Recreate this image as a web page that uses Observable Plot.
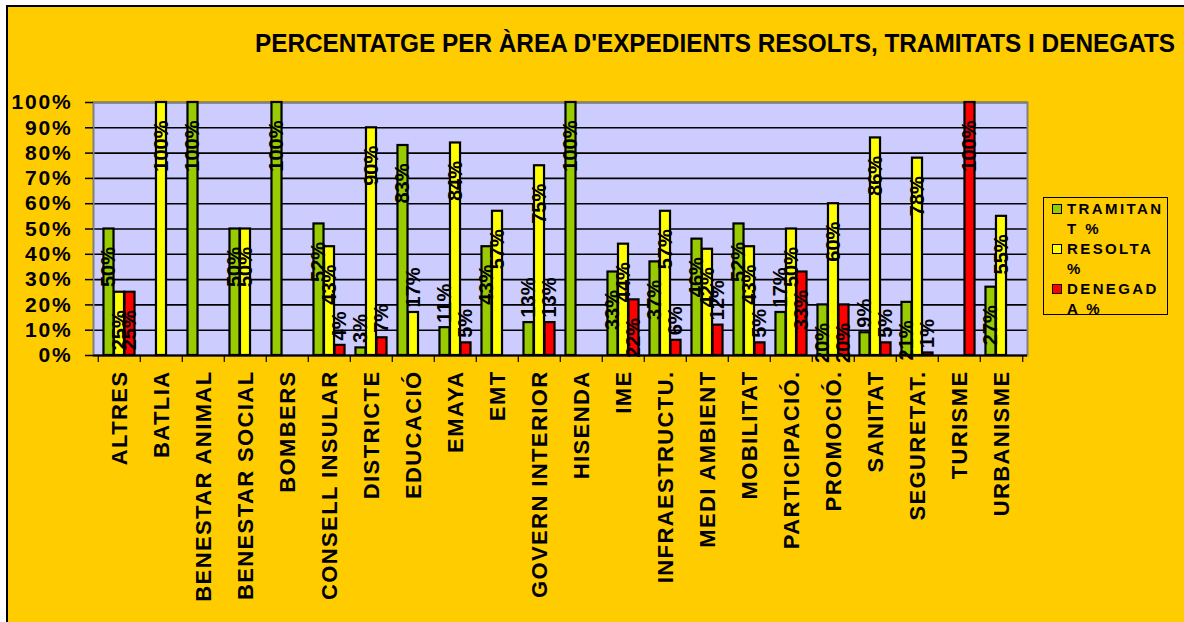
<!DOCTYPE html>
<html>
<head>
<meta charset="utf-8">
<script src="https://cdn.jsdelivr.net/npm/d3@7"></script>
<script src="https://cdn.jsdelivr.net/npm/@observablehq/plot@0.6"></script>
<style>
  html, body { margin: 0; padding: 0; background: #fff; }
  body { width: 1184px; height: 622px; position: relative; overflow: hidden; font-family: "Liberation Sans", Arial, sans-serif; }
  #bg { position: absolute; left: 6px; top: 5px; right: 0; bottom: 0; background: #FFCC00; border-left: 2px solid #000; border-top: 2px solid #000; }
  #title { position: absolute; left: 255px; top: 29px; font-weight: bold; font-size: 25px; white-space: nowrap; transform-origin: 0 0; color: #000; }
  #chart { position: absolute; left: 0; top: 70px; }
  #chart svg { overflow: visible; }
  #legend { position: absolute; left: 1043px; top: 197px; width: 125px; height: 118px; border: 1.5px solid #000; box-sizing: border-box; padding: 1px 0 0 8px; }
  .item { position: relative; padding-left: 15px; width: 102px; font-weight: bold; font-size: 15px; letter-spacing: 2.4px; line-height: 20px; word-break: break-all; color: #000; }
  .item .sw { position: absolute; left: 0; top: 5px; width: 8px; height: 8px; border: 1.5px solid #000; }
  g[aria-label="y-axis tick label"] text { letter-spacing: 1.8px; }
  g[aria-label="x-axis tick label"] text { letter-spacing: 1.4px; }
</style>
</head>
<body>
<div id="bg"></div>
<div id="title"></div>
<div id="chart"></div>
<div id="legend"></div>
<script>
const titleText = "PERCENTATGE PER ÀREA D'EXPEDIENTS RESOLTS, TRAMITATS I DENEGATS";
const categories = ["ALTRES","BATLIA","BENESTAR ANIMAL","BENESTAR SOCIAL","BOMBERS","CONSELL INSULAR","DISTRICTE","EDUCACIÓ","EMAYA","EMT","GOVERN INTERIOR","HISENDA","IME","INFRAESTRUCTU.","MEDI AMBIENT","MOBILITAT","PARTICIPACIÓ.","PROMOCIÓ.","SANITAT","SEGURETAT.","TURISME","URBANISME"];
const seriesNames = ["TRAMITANT %","RESOLTA %","DENEGADA %"];
const tramitant = [50,0,100,50,100,52,3,83,11,43,13,100,33,37,46,52,17,20,9,21,0,27];
const resolta   = [25,100,0,50,0,43,90,17,84,57,75,0,44,57,42,43,50,60,86,78,0,55];
const denegada  = [25,0,0,0,0,4,7,0,5,0,13,0,22,6,12,5,33,20,5,1,100,0];
const yTicks = [0,10,20,30,40,50,60,70,80,90,100];

const colors = ["#99CC00","#FFFF00","#FF0000"];
const seriesValues = [tramitant, resolta, denegada];

// Title, fitted to the reference width
const t = document.getElementById("title");
t.textContent = titleText;
const tw = t.getBoundingClientRect().width;
t.style.transform = `scale(${920 / tw}, 1)`;

// Legend
const lg = document.getElementById("legend");
seriesNames.forEach((name, i) => {
  const it = document.createElement("div");
  it.className = "item";
  const sw = document.createElement("span");
  sw.className = "sw";
  sw.style.background = colors[i];
  it.appendChild(sw);
  it.appendChild(document.createTextNode(name));
  lg.appendChild(it);
});

// Chart
const W = 1184, H = 552, ML = 93, MR = 157, MT = 32, MB = 267;
const bw = (W - ML - MR) / categories.length;
const barW = 10.5;
const start = (bw - 3 * barW) / 2;
const rows = seriesValues.map((vals, i) =>
  categories.map((c, j) => ({cat: c, series: seriesNames[i], value: vals[j]})));
const pct = d => d.value + "%";

const marks = [
  Plot.frame({fill: "#CCCCFF"}),
  Plot.gridY(yTicks, {stroke: "#000", strokeOpacity: 1, strokeWidth: 1.6}),
  Plot.frame({stroke: "#808080", strokeWidth: 2})
];
rows.forEach((data, i) => {
  marks.push(Plot.barY(data.filter(d => d.value > 0), {
    x: "cat", y: "value", fill: colors[i], stroke: "#000", strokeWidth: 2.2,
    insetLeft: start + i * barW, insetRight: bw - start - (i + 1) * barW
  }));
});
marks.push(Plot.ruleY([0], {stroke: "#000", strokeWidth: 2}));
rows.forEach((data, i) => {
  const dx = start + (i + 0.5) * barW - bw / 2;
  marks.push(Plot.text(data.filter(d => d.value >= 20), {
    x: "cat", y: "value", text: pct, rotate: -90, textAnchor: "end", lineAnchor: "middle",
    dx, dy: 18, fontSize: 20, fontWeight: "bold", fill: "#000"
  }));
  marks.push(Plot.text(data.filter(d => d.value > 0 && d.value < 20), {
    x: "cat", y: "value", text: pct, rotate: -90, textAnchor: "start", lineAnchor: "middle",
    dx, dy: -5, fontSize: 20, fontWeight: "bold", fill: "#000"
  }));
});
marks.push(
  Plot.axisY(yTicks, {tickFormat: d => d + "%", tickSize: 8, tickPadding: 13, fontSize: 21, fontWeight: "bold", strokeWidth: 1.5}),
  Plot.axisX({tickSize: 7, tickFormat: () => "", dx: -bw / 2, strokeWidth: 1.2}),
  Plot.axisX([categories[categories.length - 1]], {tickSize: 7, tickFormat: () => "", dx: bw / 2, strokeWidth: 1.2}),
  Plot.axisX({tickSize: 0, tickPadding: 15, rotate: -90, textAnchor: "end", lineAnchor: "middle", fontSize: 22, fontWeight: "bold"})
);

const chart = Plot.plot({
  width: W, height: H,
  marginLeft: ML, marginRight: MR, marginTop: MT, marginBottom: MB,
  style: {background: "transparent", fontFamily: "'Liberation Sans', Arial, sans-serif", color: "#000"},
  x: {domain: categories, padding: 0, label: null},
  y: {domain: [0, 100], label: null},
  marks
});
document.getElementById("chart").appendChild(chart);
</script>
</body>
</html>
